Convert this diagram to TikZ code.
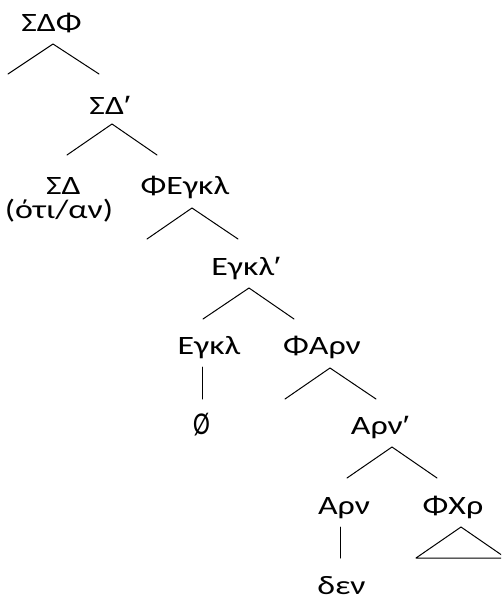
\documentclass[tikz,border=0pt]{standalone}
\usepackage{fontspec}
\setmainfont{Carlito}
\newfontfamily\primefont{Liberation Sans}
\newcommand{\wx}[1]{\scalebox{1.28}[1]{#1}}
\newcommand{\barmark}{{\primefont ′}}
\begin{document}
\begin{tikzpicture}[x=1pt,y=-1pt,
  lbl/.style={anchor=base,inner sep=0pt,font=\fontsize{26.5}{30}\selectfont},
  br/.style={line width=1pt,line cap=round,line join=round}]
\clip (0,0) rectangle (501,601);
\fill[white] (0,0) rectangle (501,601);
% labels
\node[lbl] (sdf) at (51.5,32) {\wx{ΣΔΦ}};
\node[lbl] (sdbar) at (110,115) {\wx{ΣΔ\barmark}};
\node[lbl] (sd) at (63.5,195) {\wx{ΣΔ}};
\node[lbl] (oti) at (59,219) {\wx{(ότι/αν)}};
\node[lbl] (feg) at (185,195) {\wx{ΦΕγκλ}};
\node[lbl] (egbar) at (246,275) {\wx{Εγκλ\barmark}};
\node[lbl] (eg) at (209,354) {\wx{Εγκλ}};
\node[lbl] (far) at (322,354) {\wx{ΦΑρν}};
\node[lbl] (empty) at (201.5,434) {\scalebox{0.95}[1.2]{Ø}};
\node[lbl] (arbar) at (380,434) {\wx{Αρν\barmark}};
\node[lbl] (ar) at (344,514) {\wx{Αρν}};
\node[lbl] (fxr) at (453,514) {\wx{ΦΧρ}};
\node[lbl] (den) at (341.5,594) {\wx{δεν}};
% branch points
\coordinate (a1) at (53,44);  \coordinate (l1) at (8,74);    \coordinate (r1) at (99,74);
\coordinate (a2) at (112,124); \coordinate (l2) at (67,155);  \coordinate (r2) at (157,155);
\coordinate (a3) at (192,208); \coordinate (l3) at (147,239); \coordinate (r3) at (238,239);
\coordinate (a4) at (249,288); \coordinate (l4) at (203,319); \coordinate (r4) at (294,319);
\coordinate (v1t) at (202,367); \coordinate (v1b) at (202,399);
\coordinate (a5) at (330,368); \coordinate (l5) at (285,399); \coordinate (r5) at (376,399);
\coordinate (a6) at (392,447); \coordinate (l6) at (347,478); \coordinate (r6) at (437,478);
\coordinate (v2t) at (340,527); \coordinate (v2b) at (340,558);
\coordinate (a7) at (461,527); \coordinate (l7) at (416,558); \coordinate (r7) at (506,558);
% branches
\draw[br] (l1) -- (a1) -- (r1);
\draw[br] (l2) -- (a2) -- (r2);
\draw[br] (l3) -- (a3) -- (r3);
\draw[br] (l4) -- (a4) -- (r4);
\draw[br] (v1t) -- (v1b);
\draw[br] (l5) -- (a5) -- (r5);
\draw[br] (l6) -- (a6) -- (r6);
\draw[br] (v2t) -- (v2b);
\draw[br] (a7) -- (l7) -- (r7) -- cycle;
\end{tikzpicture}
\end{document}
